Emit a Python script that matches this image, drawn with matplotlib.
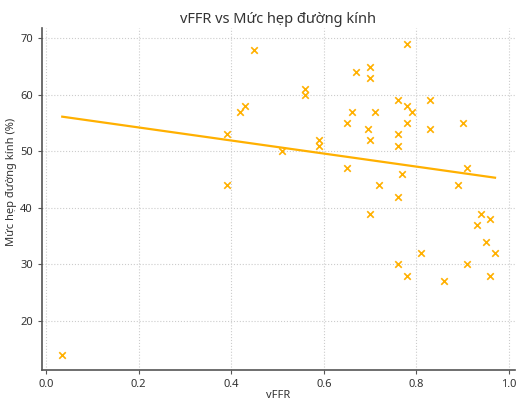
import numpy as np
import matplotlib
matplotlib.use("Agg")
import matplotlib.pyplot as plt

# values
vffr = [0.035, 0.39, 0.39, 0.42, 0.43, 0.45, 0.51, 0.56, 0.56, 0.59,
        0.59, 0.65, 0.65, 0.66, 0.67, 0.695, 0.70, 0.70, 0.70, 0.70,
        0.71, 0.72, 0.76, 0.76, 0.76, 0.76, 0.76, 0.77, 0.78, 0.78,
        0.78, 0.78, 0.79, 0.81, 0.83, 0.83, 0.86, 0.89, 0.90, 0.91,
        0.91, 0.93, 0.94, 0.95, 0.96, 0.96, 0.97]
stenosis = [14, 53, 44, 57, 58, 68, 50, 61, 60, 52,
            51, 55, 47, 57, 64, 54, 65, 63, 52, 39,
            57, 44, 59, 53, 51, 42, 30, 46, 69, 58,
            55, 28, 57, 32, 59, 54, 27, 44, 55, 47,
            30, 37, 39, 34, 38, 28, 32]

x = np.array(vffr)
y = np.array(stenosis)
slope, intercept = np.polyfit(x, y, 1)
x_line = np.array([x.min(), x.max()])

matplotlib.rcParams['font.family'] = 'Noto Sans'
text_color = '#333333'
orange = '#FFB000'

fig = plt.figure(figsize=(5.17, 4.01), dpi=100)
ax = fig.add_axes([0.081, 0.077, 0.915, 0.853])

ax.scatter(x, y, marker='x', color=orange, s=22, linewidths=1.2, zorder=3)
ax.plot(x_line, slope * x_line + intercept, color=orange, linewidth=1.6, zorder=2)

ax.set_xlim(-0.009, 1.013)
ax.set_ylim(11.3, 71.8)
ax.set_xticks([0.0, 0.2, 0.4, 0.6, 0.8, 1.0])
ax.set_yticks([20, 30, 40, 50, 60, 70])
ax.grid(True, linestyle=':', color='#cccccc', linewidth=0.8)
ax.set_axisbelow(True)

for side in ['top', 'right']:
    ax.spines[side].set_visible(False)
for side in ['left', 'bottom']:
    ax.spines[side].set_color('#555555')
    ax.spines[side].set_linewidth(1.2)

ax.tick_params(colors=text_color, labelsize=8, length=3, color='#555555')
ax.set_title('vFFR vs Mức hẹp đường kính', fontsize=10.5, color=text_color, pad=4)
ax.set_xlabel('vFFR', fontsize=8, color=text_color)
ax.set_ylabel('Mức hẹp đường kính (%)', fontsize=8, color=text_color)
ax.xaxis.set_label_coords(0.5, -0.057)
ax.yaxis.set_label_coords(-0.053, 0.55)

fig.savefig('out.png', dpi=100)
